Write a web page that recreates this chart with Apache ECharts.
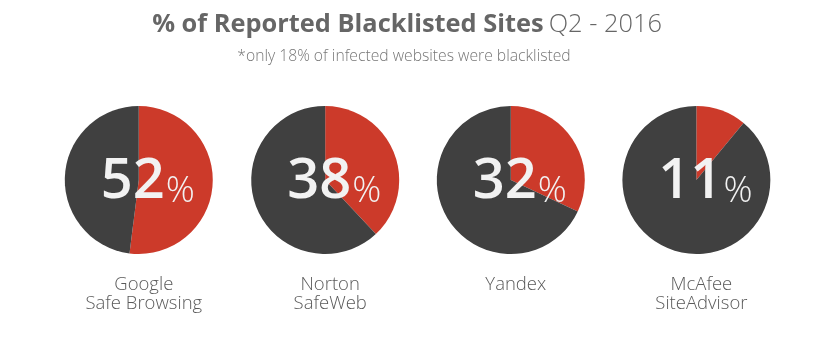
<!DOCTYPE html>
<html><head><meta charset="utf-8">
<script src="https://cdn.jsdelivr.net/npm/echarts@6/dist/echarts.min.js"></script>
<style>html,body{margin:0;padding:0;background:#fff}#c{width:836px;height:337px}</style>
</head><body><div id="c"></div>
<script>
const names = ['Google\nSafe Browsing', 'Norton\nSafeWeb', 'Yandex', 'McAfee\nSiteAdvisor'];
const values = [52, 38, 32, 11];
const centersX = ['16.6%', '38.9%', '61.1%', '83.3%'];

const FONT = '"Open Sans", sans-serif';
const RED = '#cc3a2a', DARK = '#404040';

const series = values.map((v, i) => ({
  type: 'pie',
  center: [centersX[i], 180],
  radius: 74,
  startAngle: 90,
  clockwise: true,
  silent: true,
  animation: false,
  labelLine: { show: false },
  labelLayout: { dx: 9 },
  data: [
    { value: v, itemStyle: { color: RED },
      label: { show: true, position: 'center', formatter: '{n|' + v + '}{p|%}',
        rich: {
          n: { fontFamily: FONT, fontSize: 56, fontWeight: 600, color: '#f2f2f2', verticalAlign: 'bottom', lineHeight: 60 },
          p: { fontFamily: FONT, fontSize: 36, fontWeight: 300, color: '#f2f2f2', verticalAlign: 'bottom', lineHeight: 48, padding: [0,0,0,1] }
        } } },
    { value: 100 - v, itemStyle: { color: DARK }, label: { show: false } }
  ]
}));

const titles = [
  { text: '{b|% of Reported Blacklisted Sites} {r|Q2 - 2016}', left: 402, top: 7, textAlign: 'center',
    textStyle: { rich: {
      b: { fontFamily: FONT, fontSize: 25.4, fontWeight: 700, color: '#666666' },
      r: { fontFamily: FONT, fontSize: 25.4, fontWeight: 300, color: '#666666' } } } },
  { text: '*only 18% of infected websites were blacklisted', left: 399, top: 44, textAlign: 'center',
    textStyle: { fontFamily: FONT, fontSize: 15.7, fontWeight: 300, color: '#777777' } }
].concat(names.map((n, i) => ({
  text: n, left: centersX[i], top: 270, textAlign: 'center',
  textStyle: { fontFamily: FONT, fontSize: 18.5, fontWeight: 300, color: '#5a5a5a', lineHeight: 19 }
})));

const chart = echarts.init(document.getElementById('c'));
chart.setOption({ animation: false, title: titles, series: series });
</script></body></html>
